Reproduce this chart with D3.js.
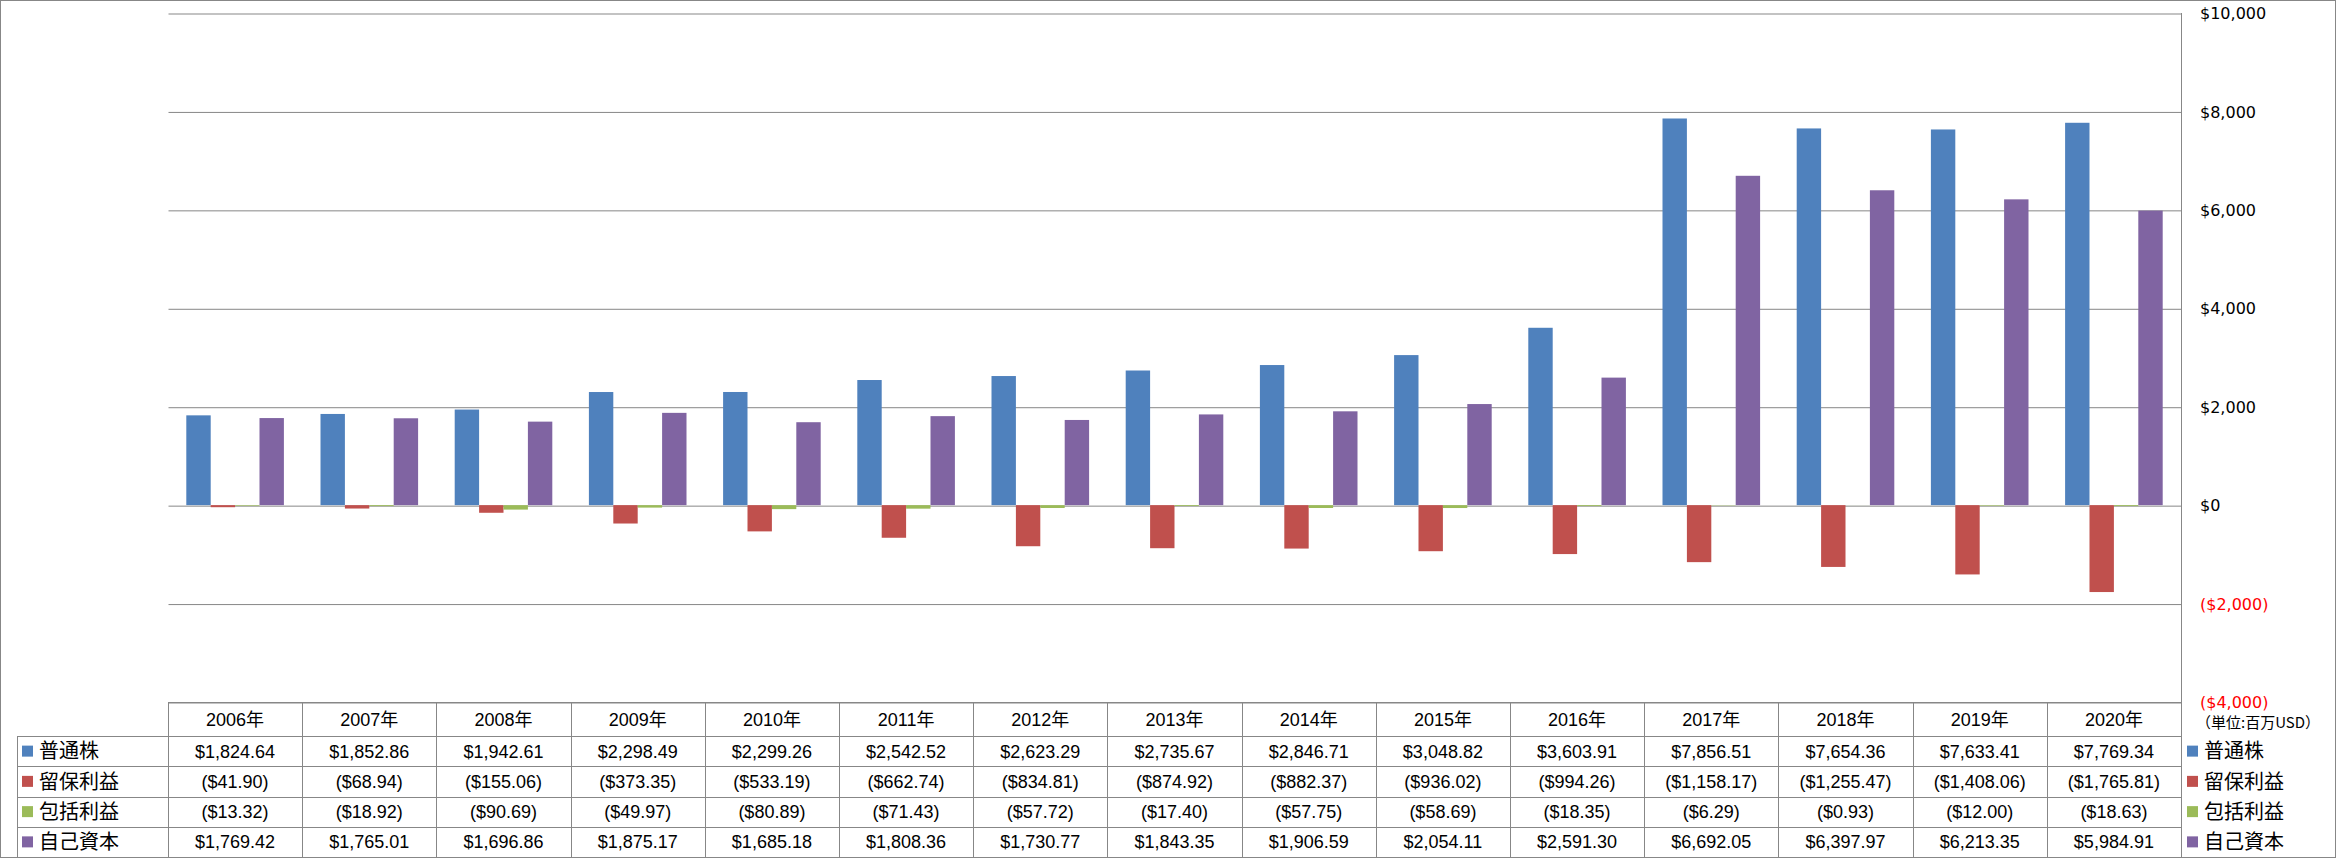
<!DOCTYPE html>
<html>
<head>
<meta charset="utf-8">
<script src="https://cdn.jsdelivr.net/npm/d3@7"></script>
<style>
html,body{margin:0;padding:0;background:#fff;}
svg{display:block;}
</style>
</head>
<body>
<svg id="chart" width="2336" height="858"></svg>
<script>
// ---- data ----
const years = ["2006年","2007年","2008年","2009年","2010年","2011年","2012年","2013年","2014年","2015年","2016年","2017年","2018年","2019年","2020年"];
const seriesNames = ["普通株","留保利益","包括利益","自己資本"];
const seriesColors = ["#4F81BD","#C0504D","#9BBB59","#8064A2"];
const commonStock = [1824.64,1852.86,1942.61,2298.49,2299.26,2542.52,2623.29,2735.67,2846.71,3048.82,3603.91,7856.51,7654.36,7633.41,7769.34];
const retainedEarnings = [-41.90,-68.94,-155.06,-373.35,-533.19,-662.74,-834.81,-874.92,-882.37,-936.02,-994.26,-1158.17,-1255.47,-1408.06,-1765.81];
const comprehensiveIncome = [-13.32,-18.92,-90.69,-49.97,-80.89,-71.43,-57.72,-17.40,-57.75,-58.69,-18.35,-6.29,-0.93,-12.00,-18.63];
const equity = [1769.42,1765.01,1696.86,1875.17,1685.18,1808.36,1730.77,1843.35,1906.59,2054.11,2591.30,6692.05,6397.97,6213.35,5984.91];
const yTicks = [-4000,-2000,0,2000,4000,6000,8000,10000];
const unitLabel = "（単位:百万USD）";

const seriesValues = [commonStock, retainedEarnings, comprehensiveIncome, equity];

// ---- layout ----
const svg = d3.select("#chart");
const W = 2336, H = 858;
const plotLeft = 168, plotRight = 2181, plotTop = 13, plotBottom = 702;
const gridColor = "#878787";
const headerBottom = 736;
const rowH = (857 - headerBottom) / 4;

const x0 = d3.scaleBand().domain(years).range([plotLeft, plotRight]).paddingInner(0).paddingOuter(0);
const bw = x0.bandwidth();
const barW = bw / 5.5;
const x1 = d3.scaleBand().domain(d3.range(4)).range([0.75 * barW, 0.75 * barW + 4 * barW]).padding(0);
const y = d3.scaleLinear().domain([-4000, 10000]).range([plotBottom, plotTop]);

const fmtNum = d3.format(",.2f");
const fmtCell = v => v < 0 ? "($" + fmtNum(-v) + ")" : "$" + fmtNum(v);
const fmtAxis = d3.format(",.0f");
const fmtTick = v => v < 0 ? "($" + fmtAxis(-v) + ")" : "$" + fmtAxis(v);

// outer border
svg.append("rect").attr("x",0.5).attr("y",0.5).attr("width",W-1).attr("height",H-1)
  .attr("fill","#fff").attr("stroke",gridColor).attr("stroke-width",1);

// gridlines
const yAxis = d3.axisRight(y).tickValues(yTicks).tickSize(-(plotRight - plotLeft)).tickFormat(fmtTick).tickPadding(19);
const gAxis = svg.append("g").attr("transform", `translate(${plotRight + 0.5},0)`).call(yAxis);
gAxis.select(".domain").remove();
gAxis.selectAll(".tick line").attr("stroke", gridColor).attr("stroke-width",1)
  .attr("transform","translate(0,0.5)");
gAxis.selectAll(".tick text")
  .attr("font-family","'DejaVu Sans', Verdana, sans-serif")
  .attr("font-size","16px")
  .attr("fill", d => d < 0 ? "#FF0000" : "#000")
  .attr("x", 18.5)
  .attr("dy","0.35em");

// bars
const groups = svg.append("g").selectAll("g").data(years).join("g")
  .attr("transform", d => `translate(${x0(d)},0)`);
groups.selectAll("rect").data((d,i) => seriesValues.map((arr,s) => ({s, v: arr[i]}))).join("rect")
  .attr("x", d => x1(d.s))
  .attr("width", x1.bandwidth())
  .attr("y", d => Math.min(y(d.v), y(0)))
  .attr("height", d => Math.abs(y(d.v) - y(0)))
  .attr("fill", d => seriesColors[d.s]);

// right axis line (also table right border)
svg.append("line").attr("x1",plotRight+0.5).attr("x2",plotRight+0.5).attr("y1",plotTop).attr("y2",H-1)
  .attr("stroke",gridColor).attr("stroke-width",1);

// ---- data table ----
const tbl = svg.append("g");
const tableFont = "'Liberation Sans', Arial, 'Noto Sans CJK JP', sans-serif";
tbl.append("line").attr("x1",plotLeft).attr("x2",plotRight).attr("y1",plotBottom+0.5).attr("y2",plotBottom+0.5)
  .attr("stroke",gridColor);
for (let r = 0; r < 4; r++) {
  const yy = Math.round(headerBottom + r * rowH) + 0.5;
  tbl.append("line").attr("x1",17).attr("x2",plotRight).attr("y1",yy).attr("y2",yy).attr("stroke",gridColor);
}
tbl.append("line").attr("x1",17.5).attr("x2",17.5).attr("y1",headerBottom).attr("y2",H-1).attr("stroke",gridColor);
years.forEach(yr => {
  const xx = Math.round(x0(yr)) + 0.5;
  tbl.append("line").attr("x1",xx).attr("x2",xx).attr("y1",plotBottom).attr("y2",H-1).attr("stroke",gridColor);
});
tbl.selectAll("text.hdr").data(years).join("text").attr("class","hdr")
  .attr("x", d => x0(d) + bw/2).attr("y", (plotBottom + headerBottom)/2 + 1)
  .attr("text-anchor","middle").attr("dy","0.35em")
  .attr("font-family",tableFont).attr("font-size","18px").attr("fill","#000")
  .text(d => d);
seriesNames.forEach((name, s) => {
  const cy = headerBottom + s * rowH + rowH/2;
  tbl.append("rect").attr("x",22).attr("y",cy-5.5).attr("width",11).attr("height",11).attr("fill",seriesColors[s]);
  tbl.append("text").attr("x",39).attr("y",cy).attr("dy","0.36em")
    .attr("font-family","'Noto Sans CJK JP', sans-serif").attr("font-size","20px").attr("fill","#000")
    .text(name);
  tbl.selectAll(null).data(seriesValues[s]).join("text")
    .attr("x",(d,i) => x0(years[i]) + bw/2).attr("y",cy).attr("dy","0.36em")
    .attr("text-anchor","middle")
    .attr("font-family",tableFont).attr("font-size","18px").attr("fill","#000")
    .text(d => fmtCell(d));
  tbl.append("rect").attr("x",2187).attr("y",cy-5.5).attr("width",11).attr("height",11).attr("fill",seriesColors[s]);
  tbl.append("text").attr("x",2204).attr("y",cy).attr("dy","0.36em")
    .attr("font-family","'Noto Sans CJK JP', sans-serif").attr("font-size","20px").attr("fill","#000")
    .text(name);
});
// unit label, spaced to the reference's width
const unit = svg.append("text").attr("x",2196).attr("y",723).attr("dy","0.36em")
  .attr("font-family","'Noto Sans CJK JP', sans-serif").attr("font-size","15px").attr("fill","#000")
  .text(unitLabel);
const natural = unit.node().getComputedTextLength();
const nChars = Array.from(unitLabel).length;
const ls = Math.max(0, (118 - natural) / (nChars - 1));
unit.attr("letter-spacing", ls + "px");
</script>
</body>
</html>
